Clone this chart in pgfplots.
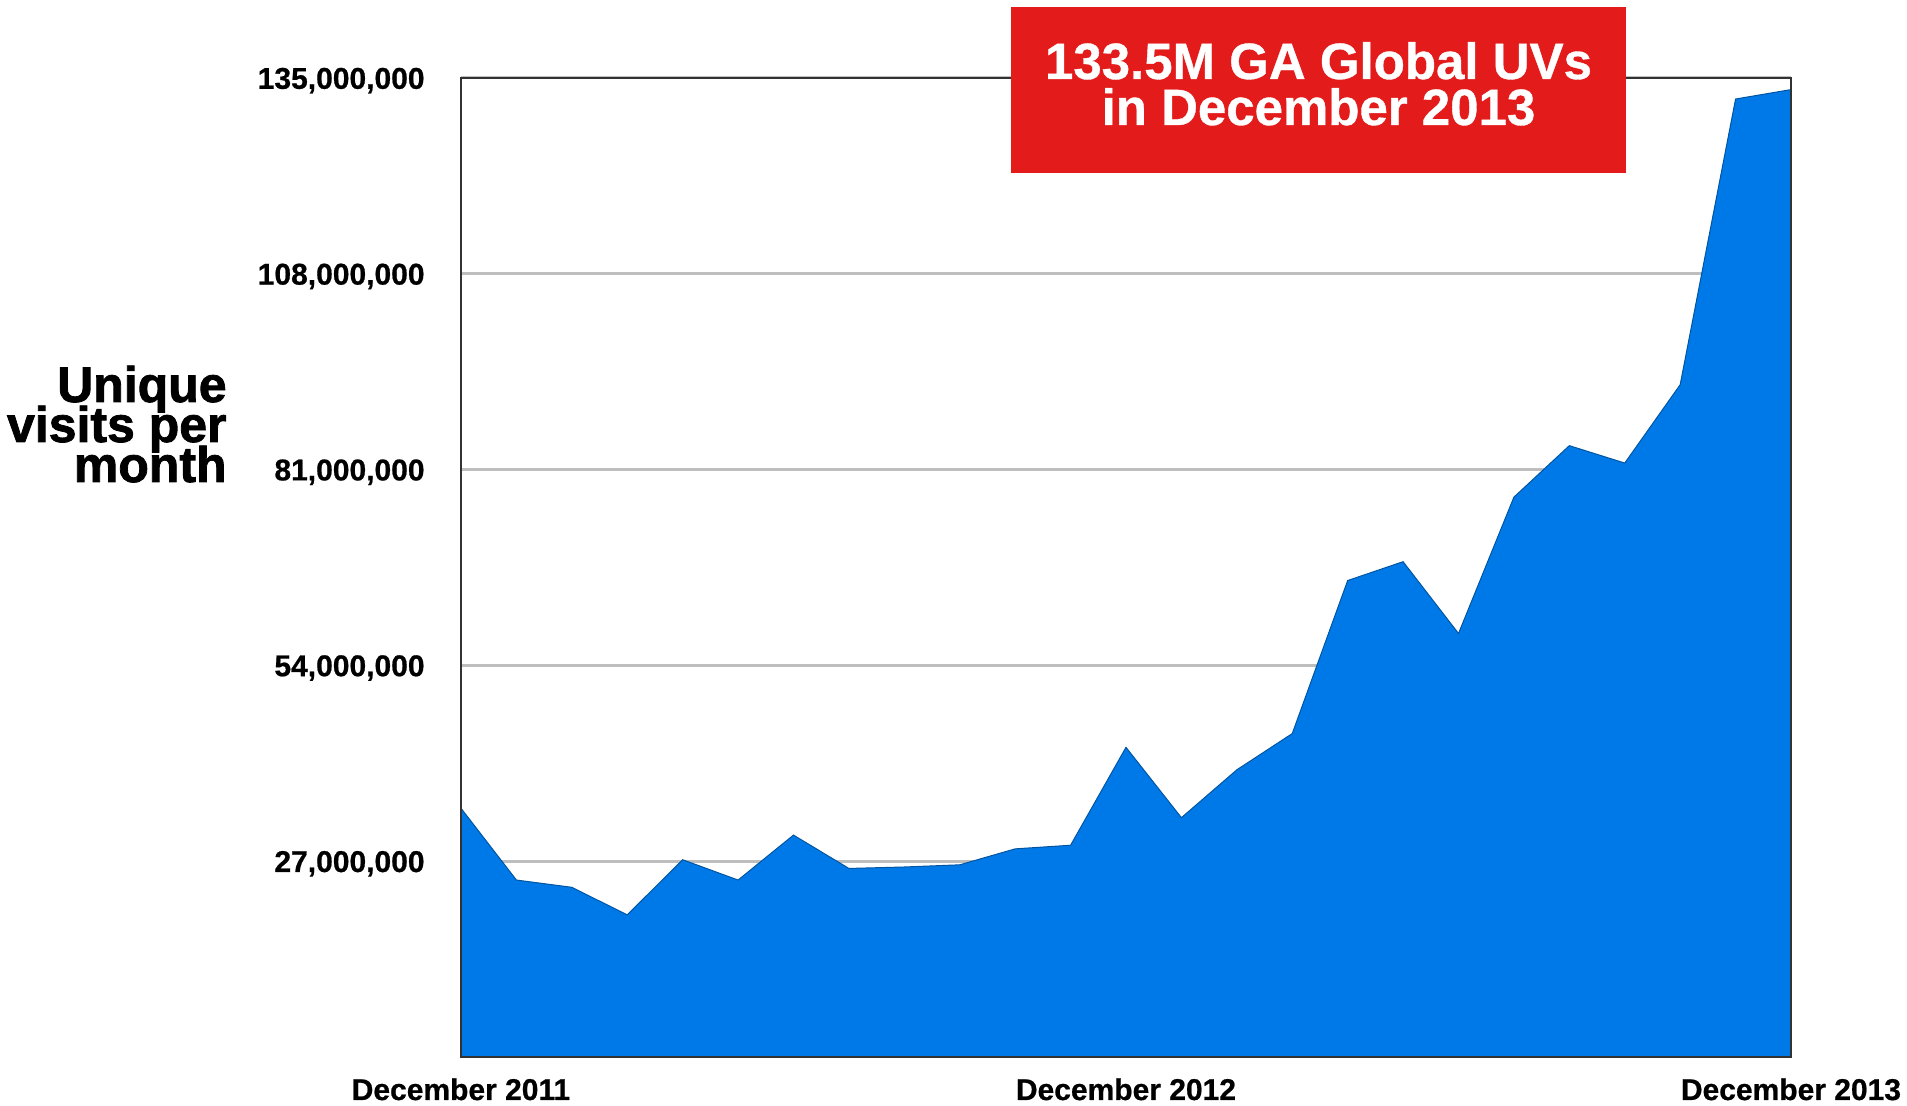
\documentclass[border=0pt]{standalone}
\usepackage{fontspec}
\setmainfont{Liberation Sans}
\newfontfamily\heavyfont{Liberation Sans Bold}[FakeBold=1.6]
\newfontfamily\boldfont{Liberation Sans Bold}[FakeBold=0.7]
\usepackage{pgfplots}
\pgfplotsset{compat=1.18}

\definecolor{areablue}{RGB}{0,121,232}
\definecolor{boxred}{RGB}{228,27,27}
\definecolor{gridgray}{RGB}{190,190,190}
\definecolor{frame}{RGB}{50,50,50}

\pgfplotstableread{
month visits
0  34300000
1  24400000
2  23400000
3  19600000
4  27200000
5  24400000
6  30600000
7  26000000
8  26200000
9  26500000
10 28700000
11 29200000
12 42700000
13 33000000
14 39600000
15 44600000
16 65700000
17 68300000
18 58400000
19 77200000
20 84300000
21 81900000
22 92700000
23 132100000
24 133400000
}\visits

\begin{document}
\begin{tikzpicture}
  % page size: 1 px of the reference = 0.5pt
  \path[use as bounding box] (-230.5pt,-24.5pt) rectangle (723pt,528.5pt);
  \begin{axis}[
    at={(0pt,0pt)}, anchor=south west,
    width=665pt, height=489.5pt, scale only axis,
    xmin=0, xmax=24, ymin=0, ymax=135000000,
    xtick={0,12,24},
    xticklabels={December 2011,December 2012,December 2013},
    ytick={27000000,54000000,81000000,108000000,135000000},
    scaled y ticks=false,
    yticklabel={\pgfmathprintnumber[fixed,precision=0,1000 sep={,}]{\tick}},
    /pgf/number format/assume math mode=true,
    major tick length=0pt,
    ymajorgrids,
    grid style={gridgray, line width=1.5pt},
    axis line style={draw=none},
    ticklabel style={font=\boldfont\fontsize{15}{17}\selectfont},
    yticklabel style={anchor=base east, inner sep=0pt, xshift=-18pt, yshift=-5.4pt},
    xticklabel style={anchor=base, inner sep=0pt, yshift=-21.5pt},
    clip=false,
  ]
    \addplot[fill=areablue, draw=areablue!70!black, line width=0.5pt]
      table[x=month, y=visits] {\visits} \closedcycle;
    \draw[frame, line width=1pt] (rel axis cs:0,0) rectangle (rel axis cs:1,1);
  \end{axis}

  % y axis title
  \node[anchor=base east, inner sep=0pt, font=\heavyfont\fontsize{25}{20}\selectfont] at (-117pt,327.5pt) {Unique};
  \node[anchor=base east, inner sep=0pt, font=\heavyfont\fontsize{25}{20}\selectfont] at (-117pt,307.5pt) {visits per};
  \node[anchor=base east, inner sep=0pt, font=\heavyfont\fontsize{25}{20}\selectfont] at (-117pt,287.5pt) {month};

  % red call-out box
  \fill[boxred] (275pt,442pt) rectangle (582.5pt,525pt);
  \node[anchor=base, inner sep=0pt, text=white, font=\boldfont\fontsize{25.5}{25}\selectfont] at (428.75pt,489pt) {133.5M GA Global UVs};
  \node[anchor=base, inner sep=0pt, text=white, font=\boldfont\fontsize{25.5}{25}\selectfont] at (428.75pt,466pt) {in December 2013};
\end{tikzpicture}
\end{document}
